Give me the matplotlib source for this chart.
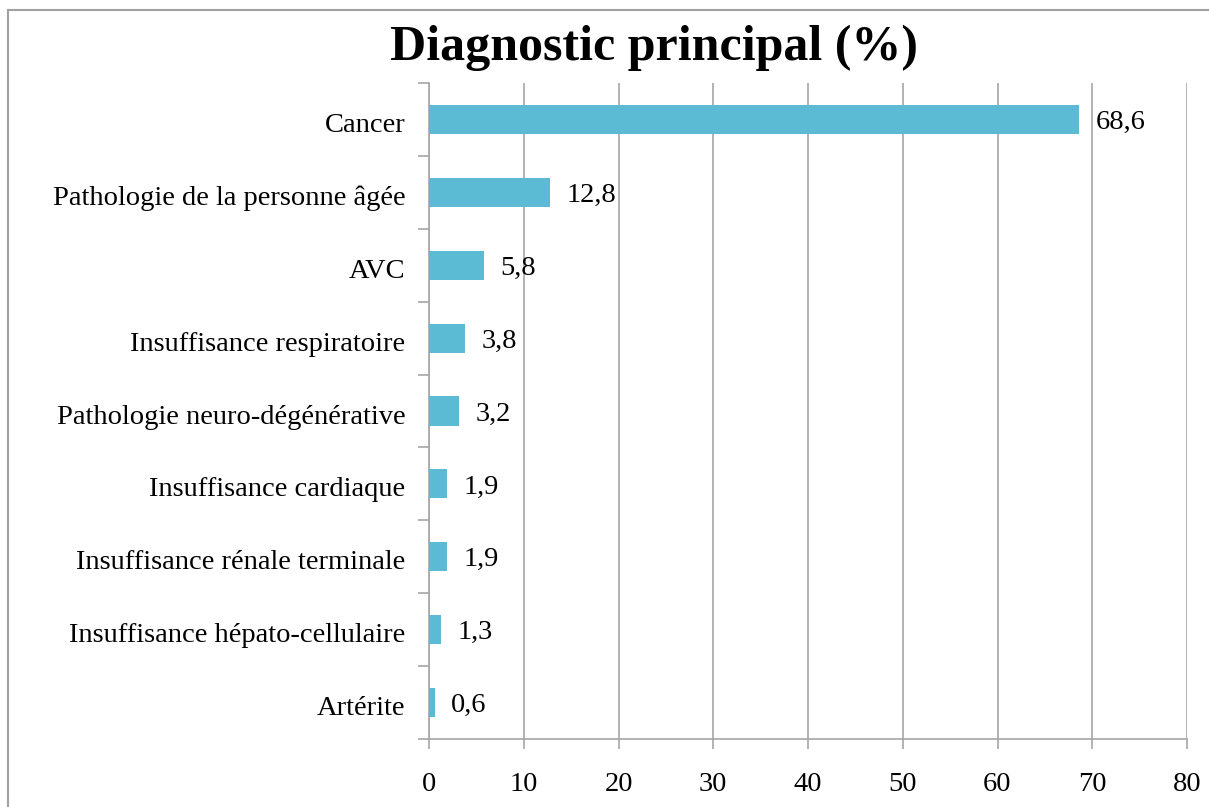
import matplotlib
matplotlib.use("Agg")
import matplotlib.pyplot as plt
from matplotlib.lines import Line2D
from matplotlib.transforms import ScaledTranslation

categories = ["Cancer", "Pathologie de la personne âgée", "AVC",
              "Insuffisance respiratoire", "Pathologie neuro-dégénérative",
              "Insuffisance cardiaque", "Insuffisance rénale terminale",
              "Insuffisance hépato-cellulaire", "Artérite"]
values = [68.6, 12.8, 5.8, 3.8, 3.2, 1.9, 1.9, 1.3, 0.6]
value_labels = ["68,6", "12,8", "5,8", "3,8", "3,2", "1,9", "1,9", "1,3", "0,6"]
xticks = [0, 10, 20, 30, 40, 50, 60, 70, 80]
title = "Diagnostic principal (%)"

W, H = 1209, 807
fig = plt.figure(figsize=(W / 100, H / 100), dpi=100)
fig.patch.set_facecolor("white")

left, right, top, bottom = 429, 1187, 83, 739
ax = fig.add_axes([left / W, 1 - bottom / H, (right - left) / W, (bottom - top) / H])

font = "Liberation Serif"
fs = 20.5
grid_c = "#a6a6a6"
bar_c = "#5bbad4"

n = len(categories)
ypos = list(range(n))
ax.barh(ypos, values, height=0.4, color=bar_c, zorder=3)
ax.set_ylim(n - 0.5, -0.5)
ax.set_xlim(0, 80)

down = ScaledTranslation(0, -3 / 100, fig.dpi_scale_trans)

for y, v, lab in zip(ypos, values, value_labels):
    ax.annotate(lab, (v, y), xytext=(12, -2.2), textcoords="offset points",
                va="center", ha="left", fontsize=fs, family=font, zorder=4)

ax.set_xticks(xticks)
ax.set_xticklabels([str(t) for t in xticks], fontsize=fs, family=font)
ax.set_yticks(ypos)
ax.set_yticklabels(categories, fontsize=fs, family=font)
ax.tick_params(axis="y", length=0, pad=17)
ax.tick_params(axis="x", length=7, width=1.2, color=grid_c, pad=17)
for lbl in ax.get_yticklabels():
    lbl.set_transform(lbl.get_transform() + down)

# boundary ticks on y axis
ax.set_yticks([i - 0.5 for i in range(n + 1)], minor=True)
ax.tick_params(axis="y", which="minor", length=8, width=1.2, color=grid_c)

ax.xaxis.grid(True, color=grid_c, linewidth=1.2, zorder=0)
for s in ["top", "right"]:
    ax.spines[s].set_visible(False)
for s in ["left", "bottom"]:
    ax.spines[s].set_color(grid_c)
    ax.spines[s].set_linewidth(1.2)

fig.text(654 / W, 1 - 48 / H, title, ha="center", va="center",
         fontsize=36, fontweight="bold", family=font)

# outer chart frame (partially visible)
fig.add_artist(Line2D([8 / W, 8 / W], [0, 1 - 10 / H], transform=fig.transFigure,
                      color="#a0a0a0", linewidth=1.5))
fig.add_artist(Line2D([8 / W, 1], [1 - 10 / H, 1 - 10 / H], transform=fig.transFigure,
                      color="#a0a0a0", linewidth=1.5))

fig.savefig("out.png", dpi=100, facecolor="white")
